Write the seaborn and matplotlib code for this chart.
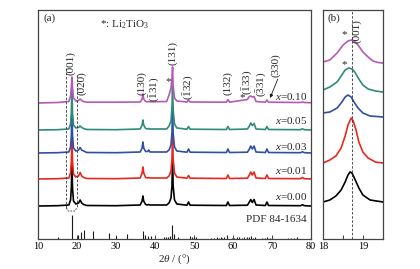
import numpy as np
import pandas as pd
import matplotlib
matplotlib.use("Agg")
import matplotlib.pyplot as plt
import seaborn as sns

# ---------------- data (intensities in arbitrary px-like units) -------------
two_theta = [10, 15, 17.9, 18.35, 18.55, 18.7, 18.85, 19.1, 19.7, 20.4, 20.8, 21.2, 21.7, 22.5,
             30, 36.2, 36.7, 36.9, 37.1, 37.6, 38.1, 38.4, 38.7, 43.0, 43.6, 44.1, 44.35, 44.5,
             44.65, 45.0, 45.6, 48.2, 48.6, 49.0, 58.3, 58.7, 59.1, 63.7, 64.2, 64.55, 64.95,
             65.4, 65.9, 68.3, 68.7, 69.1, 77.3, 77.8, 78.3, 80]
I_000 = [0, 0.3, 1, 6, 18, 44, 18, 5, 2, 3, 6, 3, 1.5, 0.5,
         0.3, 1, 5, 10, 5, 1.5, 1, 1.5, 1, 1, 3, 8, 20, 46,
         20, 6, 2, 0.8, 4, 0.8, 0.5, 4, 0.5, 0.8, 4, 6.5, 3.5,
         6.5, 1, 0.5, 4, 0.5, 0.3, 1.2, 0.3, 0]
I_001 = [0, 0.3, 1, 6, 18, 44, 18, 5, 2, 3, 6.5, 3, 1.5, 0.5,
         0.3, 1, 6, 12, 6, 1.5, 1, 1.5, 1, 1, 3, 8, 20, 46,
         20, 6, 2, 0.8, 3.5, 0.8, 0.5, 4, 0.5, 0.8, 4, 7, 4,
         7, 1, 0.5, 4, 0.5, 0.3, 1.5, 0.3, 0]
I_003 = [0, 0.3, 1, 6, 18, 44, 18, 5, 2, 3, 5.5, 3, 2, 0.5,
         0.3, 1, 5, 11, 5, 1.5, 1.5, 3, 1, 1, 3, 8, 20, 46,
         20, 6, 2, 0.8, 4, 0.8, 0.5, 4, 0.5, 0.8, 4, 7, 4,
         7, 1, 0.5, 4, 0.5, 0.3, 1.2, 0.3, 0]
I_005 = [0, 0.3, 1, 6, 18, 42, 17, 5, 2, 2.5, 4, 2.5, 1.5, 0.5,
         0.3, 1, 5, 10, 5, 1.5, 1, 1.5, 1, 1, 4, 9, 22, 44,
         20, 6, 2, 0.8, 3.5, 0.8, 0.5, 3.5, 0.5, 1, 4, 7, 4.5,
         6.5, 1, 0.5, 3.5, 0.5, 0.3, 1.2, 0.3, 0]
I_010 = [0, 0.5, 1.5, 7, 16, 26, 15, 5, 2, 2.5, 4, 2.5, 1.5, 0.8,
         0.8, 1, 4, 9, 4, 1.5, 1.2, 1.5, 1.2, 1.5, 8, 15, 25, 36,
         17, 5, 2, 1, 3, 1, 0.8, 3.5, 0.8, 3.5, 6.5, 7, 6,
         6.5, 1.5, 0.8, 3, 0.8, 0.5, 1, 0.5, 0.3]

samples = ["x=0.00", "x=0.01", "x=0.03", "x=0.05", "x=0.10"]
sample_labels = ["$x$=0.00", "$x$=0.01", "$x$=0.03", "$x$=0.05", "$x$=0.10"]
offsets = [33, 60, 86, 109, 136]
colors = ["#000000", "#e8281e", "#2f4fa5", "#2e8b78", "#b45ab4"]

# zoomed (001) region, panel (b)
b_x = {
    "x=0.00": [18.0, 18.17, 18.32, 18.45, 18.55, 18.62, 18.67, 18.72, 18.79, 18.89, 18.99, 19.17, 19.49],
    "x=0.01": [18.0, 18.17, 18.32, 18.45, 18.55, 18.62, 18.7, 18.75, 18.82, 18.89, 18.99, 19.12, 19.3, 19.49],
    "x=0.03": [18.0, 18.17, 18.35, 18.47, 18.55, 18.62, 18.7, 18.77, 18.87, 18.99, 19.17, 19.49],
    "x=0.05": [18.0, 18.17, 18.35, 18.45, 18.55, 18.64, 18.72, 18.79, 18.89, 18.99, 19.12, 19.3, 19.49],
    "x=0.10": [18.0, 18.17, 18.35, 18.5, 18.62, 18.7, 18.77, 18.87, 18.99, 19.12, 19.24, 19.37, 19.49],
}
b_y = {
    "x=0.00": [37, 39, 43, 49, 57, 64, 67, 66, 60, 51, 44, 39, 37],
    "x=0.01": [76, 79, 83, 91, 103, 114, 121, 118, 109, 97, 87, 81, 77, 76],
    "x=0.03": [126, 127, 131, 137, 142, 144, 142, 137, 131, 126, 123, 122],
    "x=0.05": [149, 152, 157, 163, 169, 171, 170, 167, 160, 154, 150, 148, 147],
    "x=0.10": [177, 179, 186, 194, 198, 199, 198, 194, 187, 182, 178, 176.5, 176],
}

# PDF 84-1634 reference sticks
pdf_pos = [15.1, 18.75, 20.3, 20.9, 21.7, 24.1, 28.1, 30.1, 32.8, 36.9, 37.5, 38.2, 39.1,
           42.4, 42.9, 43.4, 43.8, 44.4, 44.8, 46.0, 49.0, 49.5, 49.9, 50.5, 54.4, 55.2,
           55.8, 56.3, 56.8, 57.3, 57.8, 58.5, 59.8, 60.3, 61.0, 61.6, 62.3, 62.9, 63.6,
           64.1, 64.6, 65.1, 65.6, 67.4, 68.3, 68.8, 69.4, 74.2, 74.8, 75.6, 76.3]
pdf_int = [2, 24, 4, 7, 9, 8, 6, 3, 5, 8, 4, 3, 3,
           2, 2, 2, 3, 14, 5, 2, 3, 2, 2, 2, 1.5, 1,
           2, 1.5, 2, 1.5, 2, 4, 1, 1.5, 2, 2, 1.5, 2, 2,
           2, 3, 1.5, 2, 1.5, 1.5, 2, 1.5, 1.5, 1.5, 1.5, 2]

peak_labels = ["(001)", "(020)", "(130)", r"$\mathrm{(\bar{1}31)}$", "(131)",
               r"$\mathrm{(\bar{1}32)}$", "(132)", r"$\mathrm{(\bar{1}33)}$", r"$\mathrm{(\bar{3}31)}$", "(330)"]
peak_label_x = [18.5, 21.3, 36.7, 40.0, 44.6, 48.7, 58.7, 63.9, 67.3, 71.0]
peak_label_y = [164, 144, 144, 137, 174, 139, 144, 144, 142, 162]

# ---------------- style -------------
sns.set_theme(style="white")
plt.rcParams["font.family"] = ["Liberation Serif", "DejaVu Serif"]
plt.rcParams["mathtext.fontset"] = "custom"
plt.rcParams["mathtext.rm"] = "Liberation Serif"
plt.rcParams["mathtext.it"] = "Liberation Serif:italic"
plt.rcParams["mathtext.bf"] = "Liberation Serif:bold"

fig = plt.figure(figsize=(4.2, 2.69), dpi=100)
ax = fig.add_axes([38 / 420, 30 / 269, 273 / 420, 229 / 269])
axb = fig.add_axes([323 / 420, 30 / 269, 60 / 420, 229 / 269])

series = [I_000, I_001, I_003, I_005, I_010]
for name, vals, off, col in zip(samples, series, offsets, colors):
    df = pd.DataFrame({"tt": two_theta, "I": np.asarray(vals) + off})
    sns.lineplot(data=df, x="tt", y="I", ax=ax, color=col, lw=1.2, sort=False)

ax.vlines(pdf_pos, 0, pdf_int, color="k", lw=0.8)

# dashed guide lines
ax.plot([17.3, 17.3], [171, 31], ls=(0, (3, 2)), color="#333333", lw=0.6)
ax.plot([19.9, 19.9], [164, 31], ls=(0, (3, 2)), color="#333333", lw=0.6)
ax.plot([17.3, 17.7, 19.5, 19.9], [31, 28, 28, 31], ls=(0, (2, 1.5)), color="#333333", lw=0.6)

for lab, lx, ly in zip(peak_labels, peak_label_x, peak_label_y):
    ax.text(lx, ly, lab, rotation=90, ha="center", va="bottom", fontsize=8)
ax.text(43.3, 157, "*", ha="center", va="center", fontsize=8)
ax.text(62.3, 141, "*", ha="center", va="center", fontsize=8)
ax.annotate("", xy=(69.5, 141), xytext=(71.5, 160),
            arrowprops=dict(arrowstyle="-|>", lw=0.6, color="k", mutation_scale=5, shrinkA=0, shrinkB=0))

label_y = [42, 68, 93, 119, 143]
for lab, ly in zip(sample_labels, label_y):
    ax.text(79.0, ly, lab, ha="right", va="center", fontsize=8)
ax.text(79.0, 19, "PDF 84-1634", ha="right", va="center", fontsize=8)
ax.text(11.3, 221, "(a)", ha="left", va="center", fontsize=8)
ax.text(25.9, 214, r"*: Li$_2$TiO$_3$", ha="left", va="center", fontsize=8)

ax.set_xlim(10, 80)
ax.set_ylim(0, 229)
ax.set_xticks(range(10, 81, 10))
ax.set_yticks([])
ax.set_xlabel(r"$2\theta$ / (°)", fontsize=8, labelpad=1)
ax.set_ylabel("")

# panel (b)
for name, col in zip(samples, colors):
    df = pd.DataFrame({"tt": b_x[name], "I": b_y[name]})
    sns.lineplot(data=df, x="tt", y="I", ax=axb, color=col, lw=1.2, sort=False)
axb.axvline(18.72, ls=(0, (3, 2)), color="#333333", lw=0.6)
axb.text(18.84, 196, "(001)", rotation=90, ha="center", va="bottom", fontsize=8)
axb.text(18.52, 204, "*", ha="center", va="center", fontsize=8)
axb.text(18.52, 174, "*", ha="center", va="center", fontsize=8)
axb.text(18.12, 221, "(b)", ha="left", va="center", fontsize=8)
axb.set_xlim(18, 19.49)
axb.set_ylim(0, 229)
axb.set_xticks([18, 19])
axb.set_xticks([18.5], minor=True)
axb.set_yticks([])
axb.set_xlabel("")
axb.set_ylabel("")

for a in (ax, axb):
    for s in a.spines.values():
        s.set_color("#444444")
        s.set_linewidth(0.9)
    a.tick_params(axis="x", which="both", direction="in", length=3, width=0.7,
                  labelsize=7.5, pad=2, bottom=True, colors="#444444", labelcolor="black")

fig.savefig("out.png", dpi=100)
